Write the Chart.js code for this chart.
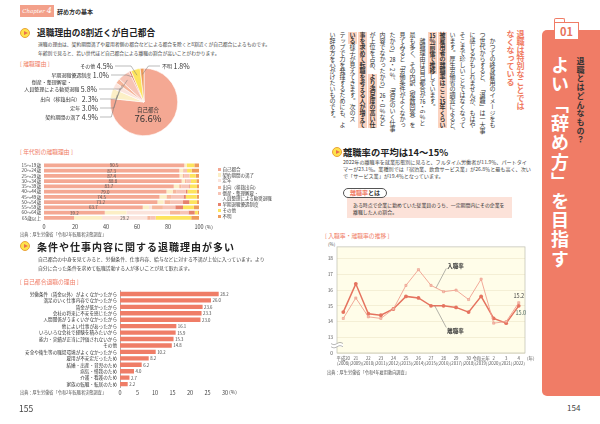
<!DOCTYPE html>
<html lang="ja"><head><meta charset="utf-8">
<script src="https://cdn.jsdelivr.net/npm/chart.js@4.4.0/dist/chart.umd.min.js"></script>
<style>
html,body{margin:0;padding:0;background:#fff;}
#page{position:relative;width:600px;height:424px;overflow:hidden;font-family:"Noto Sans CJK JP","Noto Sans",sans-serif;color:#333;background:#fff;}
.a{position:absolute;white-space:nowrap;}
canvas{position:absolute;}
.icon{position:absolute;width:10px;height:10px;border-radius:50%;background:#FFE24A;border:1px solid #E9A23B;box-sizing:border-box;}
.icon:after{content:"";position:absolute;left:3px;top:1.8px;border-left:4.2px solid #E8704E;border-top:2.6px solid transparent;border-bottom:2.6px solid transparent;}
.lbl{color:#F07C66;}
.v{writing-mode:vertical-rl;white-space:nowrap;position:absolute;}
.tcy{text-combine-upright:all;}
.hl{background:#FBD3C1;font-weight:bold;}
</style></head>
<body><div id="page">

<!-- left page header -->
<div class="a" style="left:20px;top:5px;width:34px;height:12px;background:#F3A08A;color:#fff;font-family:'DejaVu Serif',serif;font-size:5.5px;line-height:12px;text-align:center;font-style:italic;">Chapter <span style="font-size:8px;">4</span></div>
<div class="a" style="left:57px;top:8px;font-size:6px;font-weight:bold;line-height:8px;color:#333;">辞め方の基本</div>

<div class="icon" style="left:20px;top:28px;"></div>
<div class="a" style="left:37px;top:28px;font-size:8.7px;line-height:10px;font-weight:bold;color:#222;">退職理由の8割近くが自己都合</div>
<div class="a" style="left:38px;top:39px;font-size:4.8px;line-height:9px;color:#444;">退職の理由は、契約期間満了や雇用者側の都合などによる都合を除くと8割近くが自己都合によるものです。<br>年齢別で見ると、若い世代ほど自己都合による離職の割合が高いことがわかります。</div>
<div class="a lbl" style="left:20px;top:59.5px;font-size:5.8px;line-height:7px;">[ 離職理由 ]</div>

<canvas id="pie" width="180" height="82" style="left:20px;top:58px;width:180px;height:82px;"></canvas>

<div class="a lbl" style="left:20px;top:147.5px;font-size:5.8px;line-height:7px;">[ 年代別の離職理由 ]</div>
<canvas id="stack" width="215" height="75" style="left:0px;top:157px;width:215px;height:75px;"></canvas>
<div class="a" style="left:205px;top:223.5px;font-size:5px;line-height:6px;color:#444;">(%)</div>
<div id="legend"></div>
<div class="a" style="left:20px;top:231.5px;font-size:4.2px;line-height:5px;color:#555;">出典：厚生労働省「令和2年転職者実態調査」</div>

<div class="icon" style="left:20px;top:241px;"></div>
<div class="a" style="left:37px;top:240.5px;font-size:10px;letter-spacing:1px;line-height:12px;font-weight:bold;color:#222;">条件や仕事内容に関する退職理由が多い</div>
<div class="a" style="left:38px;top:253.5px;font-size:4.85px;line-height:9px;color:#444;">自己都合の中身を見てみると、労働条件、仕事内容、給与などに対する不満が上位に入っています。より<br>自分に合った条件を求めて転職活動する人が多いことが見て取れます。</div>
<div class="a lbl" style="left:20px;top:277.5px;font-size:5.8px;line-height:7px;">[ 自己都合退職の理由 ]</div>
<canvas id="hbar" width="220" height="115" style="left:20px;top:285px;width:220px;height:115px;"></canvas>
<div class="a" style="left:229px;top:389px;font-size:5px;line-height:6px;color:#444;">(%)</div>
<div class="a" style="left:20px;top:389.5px;font-size:4.2px;line-height:5px;color:#555;">出典：厚生労働省「令和2年転職者実態調査」</div>
<div class="a" style="left:19px;top:403px;font-size:8.5px;line-height:10px;color:#444;">155</div>

<!-- right page vertical text -->
<div class="v" style="left:505px;top:30px;width:20px;height:90px;font-size:8px;line-height:10px;font-weight:bold;color:#F07A5F;">退職は特別なことでは<br>なくなっている</div>
<div class="v" style="left:327px;top:32px;width:170px;height:104px;font-size:6px;line-height:10px;color:#333;">　かつての終身雇用のイメージをも<br>つ世代からすると、「退職」は一大事<br>に感じるかもしれませんが、もはや<br>そこまで珍しいことではなくなって<br>います。厚生労働省の調査によると、<br><span class="hl">被雇用者の離職率はここ<span class="tcy">15</span>年くらい</span><br><span class="hl"><span class="tcy">15</span>％前後で推移</span>しています。<br>　離職理由は自己都合が<span class="tcy">76</span>・6％と<br>最も多く、その内訳（複数回答）を<br>見てみると「労働条件がよくなかっ<br>たから」<span class="tcy">28</span>・2％、「満足のいく仕事<br>内容でなかったから」<span class="tcy">26</span>・0％など<br>が上位を占め、<span class="hl">より満足度の高い仕</span><br><span class="hl">事を求めて転職を考える人が増えて</span><br><span class="hl">いる</span>様子が見えてきます。次のス<br>テップで力を発揮するためにも、よ<br>い辞め方を心がけたいものです。</div>

<div class="icon" style="left:332px;top:147px;"></div>
<div class="a" style="left:343px;top:146.5px;font-size:9.3px;line-height:11px;font-weight:bold;color:#222;">離職率の平均は14〜15%</div>
<div class="a" style="left:343px;top:157.5px;font-size:5.1px;line-height:7px;color:#444;">2022年の離職率を就業形態別に見ると、フルタイム労働者が11.9％、パートタイ<br>マーが23.1％。業種別では「宿泊業、飲食サービス業」が26.8％と最も高く、次い<br>で「サービス業」が19.4％となっています。</div>

<div class="a" style="left:347px;top:197px;width:165px;height:21px;background:#FCE2D9;"></div>
<div class="a" style="left:343px;top:188px;width:44px;height:10px;border:0.8px solid #555;border-radius:6px;background:#fff;box-sizing:border-box;font-size:6px;line-height:8.5px;text-align:center;font-weight:bold;"><span style="color:#F07C66;">離職率</span>とは</div>
<div class="a" style="left:353px;top:201px;font-size:4.9px;line-height:7px;color:#333;">ある時点で企業に勤めていた従業員のうち、一定期間内にその企業を<br>離職した人の割合。</div>

<div class="a lbl" style="left:325px;top:231.5px;font-size:5.8px;line-height:7px;">[ 入職率・離職率の推移 ]</div>
<div class="a" style="left:328px;top:242px;font-size:4.5px;line-height:5px;color:#555;">(%)</div>
<canvas id="line" width="230" height="130" style="left:310px;top:240px;width:230px;height:130px;"></canvas>
<div class="a" style="left:527px;top:355.5px;font-size:4.5px;line-height:5px;color:#555;">(年)</div>
<div class="a" style="left:327px;top:369.5px;font-size:4.2px;line-height:5px;color:#555;">出典：厚生労働省「令和4年雇用動向調査」</div>

<!-- sidebar -->
<div class="a" style="left:542px;top:30px;width:58px;height:366px;background:#F07C66;border-radius:5px 0 0 5px;"></div>
<div class="a" style="left:554px;top:18px;width:11px;height:5px;background:#fff;border:1px solid #F07C66;border-bottom:none;border-radius:2px 2px 0 0;box-sizing:border-box;"></div>
<div class="a" style="left:554px;top:22px;width:25px;height:18px;background:#fff;border:1px solid #F07C66;box-sizing:border-box;color:#E8735A;font-weight:bold;font-size:11px;line-height:16px;text-align:center;">01</div>
<div class="v" style="left:575px;top:57px;width:10px;height:95px;font-size:8px;letter-spacing:0.7px;line-height:10px;font-weight:bold;color:#333;">退職とはどんなもの？</div>
<div class="v" style="left:549px;top:56px;width:22px;height:220px;font-size:18px;letter-spacing:1.4px;line-height:22px;font-weight:bold;color:#fff;">よい「辞め方」を目指す</div>
<div class="a" style="left:567px;top:403px;font-size:8px;line-height:10px;color:#444;">154</div>

</div>
<script>
// ---------- data ----------
const reasonNames = ['自己都合','契約期間の満了','定年','出向（移籍出向）','倒産・整理解雇・人員整理による勧奨退職','早期退職優遇制度','その他','不明'];
const reasonLines = [['自己都合'],['契約期間の満了'],['定年'],['出向（移籍出向）'],['倒産・整理解雇・','人員整理による勧奨退職'],['早期退職優遇制度'],['その他'],['不明']];
const pieValues = [76.6, 4.9, 3.0, 2.3, 5.8, 1.0, 4.5, 1.8];

const ageLabels = ['15〜19歳','20〜24歳','25〜29歳','30〜34歳','35〜39歳','40〜44歳','45〜49歳','50〜54歳','55〜59歳','60〜64歳','65歳以上'];
const ageJiko    = [90.5,87.3,87.4,88.8,83.7,79.0,74.5,73.2,63.7,39.2,19.4];
const ageKeiyaku = [1.5, 2.5, 2.0, 2.0, 3.5, 4.0, 4.5, 4.0, 4.0,14.0,18.0];
const ageTeinen  = [0.0, 0.0, 0.0, 0.0, 0.0, 0.0, 0.0, 0.5, 2.0,28.0,29.2];
const ageShukko  = [0.0, 0.5, 1.0, 1.0, 1.5, 2.5, 3.0, 4.0, 7.0, 7.0, 2.0];
const ageTosan   = [0.0, 2.0, 3.5, 3.0, 5.0, 6.0, 8.0, 8.0, 8.0, 5.0, 3.4];
const ageSouki   = [0.0, 0.0, 0.0, 0.0, 0.5, 1.0, 1.5, 4.0, 5.0, 4.0, 0.0];
const ageSonota  = [5.0, 3.0, 4.0, 3.5, 4.5, 6.0, 7.0, 5.0, 7.0, 2.0,23.0];
const ageFumei   = [3.0, 4.7, 2.1, 1.7, 1.3, 1.5, 1.5, 1.3, 3.3, 0.8, 5.0];
const ageTicks   = [0,20,40,60,80,100];

const jikoReasons = ['労働条件（賃金以外）がよくなかったから','満足のいく仕事内容でなかったから','賃金が低かったから','会社の将来に不安を感じたから','人間関係がうまくいかなかったから','他によい仕事があったから','いろいろな会社で経験を積みたいから','能力・実績が正当に評価されないから','その他','安全や衛生等の職場環境がよくなかったから','雇用が不安定だったため','結婚・出産・育児のため','病気・怪我のため','介護・看護のため','家族の転職・転居のため'];
const jikoValues = [28.2,26.0,23.6,23.3,23.0,16.1,15.9,15.3,14.8,10.2,8.2,6.2,4.0,2.7,2.2];
const jikoTicks = [0,5,10,15,20,25,30];

const yearLabels = [['平成20','(2008)'],['21','(2009)'],['22','(2010)'],['23','(2011)'],['24','(2012)'],['25','(2013)'],['26','(2014)'],['27','(2015)'],['28','(2016)'],['29','(2017)'],['30','(2018)'],['令和元年','(2019)'],['2','(2020)'],['3','(2021)'],['4','(2022)']];
const nyushokuRate = [14.2,15.5,14.3,14.2,14.8,16.3,17.3,16.3,15.9,16.0,15.4,16.7,13.9,14.0,15.2];
const rishokuRate  = [14.6,16.4,14.5,14.4,14.8,15.6,15.5,15.0,15.0,14.9,14.6,15.6,14.2,13.9,15.0];
const rateTicks = [12,13,14,15,16,17,18];
const rateTickLabels = ['0','13','14','15','16','17','18'];

// ---------- styles ----------
const FONT = '"Noto Sans CJK JP","Noto Sans",sans-serif';
Chart.defaults.font.family = FONT;
const reasonColors = ['#F4A893','#FCEFC6','#FBE4DC','#F6B79C','#F7C4B6','#E6826D','#FDE45E','#EE9C5C'];

// ---------- pie ----------
const pieLayout = [
  {center:true, dx:4, dy:8},
  {x:78, y:59, align:'right'},
  {x:78, y:50, align:'right'},
  {x:78, y:41, align:'right'},
  {x:77, y:31, align:'right'},
  {x:89, y:17, align:'right'},
  {x:93, y:8,  align:'right'},
  {x:142,y:8,  align:'left'}
];
const pieLabelPlugin = {
  id:'pieLabels',
  afterDraw(chart){
    const ctx = chart.ctx; const meta = chart.getDatasetMeta(0);
    ctx.save();
    meta.data.forEach((arc,i)=>{
      const L = pieLayout[i]; const val = pieValues[i].toFixed(1)+'%';
      ctx.fillStyle = '#333'; ctx.textBaseline='middle';
      if(L.center){
        ctx.textAlign='center';
        ctx.font = '5.5px '+FONT; ctx.fillText(reasonLines[i][0], arc.x+L.dx, arc.y+L.dy);
        ctx.font = '9.5px '+FONT; ctx.fillText(val, arc.x+L.dx, arc.y+L.dy+8.5);
        return;
      }
      const lines = reasonLines[i]; const name = lines[lines.length-1];
      ctx.font = '7px '+FONT; const vw = ctx.measureText(val).width;
      ctx.font = '5px '+FONT; const nw = ctx.measureText(name).width;
      let nameX, valX, startX;
      if(L.align==='right'){ valX = L.x - vw; nameX = valX - 1.5 - nw; startX = L.x + 2; }
      else { nameX = L.x; valX = L.x + nw + 1.5; startX = L.x - 2; }
      ctx.textAlign='left';
      ctx.font = '5px '+FONT; ctx.fillText(name, nameX, L.y+0.5);
      if(lines.length>1){ ctx.textAlign='center'; ctx.fillText(lines[0], nameX + nw/2, L.y-6.5); ctx.textAlign='left'; }
      ctx.font = '7px '+FONT; ctx.fillText(val, valX, L.y);
      // leader line
      const mid = (arc.startAngle+arc.endAngle)/2;
      const tx = arc.x + Math.cos(mid)*arc.outerRadius*0.82;
      const ty = arc.y + Math.sin(mid)*arc.outerRadius*0.82;
      ctx.strokeStyle='#777'; ctx.lineWidth=0.5; ctx.beginPath(); ctx.moveTo(startX, L.y);
      const ex = L.align==='right' ? Math.max(startX, tx-6) : Math.min(startX, tx+6);
      ctx.lineTo(ex, L.y); ctx.lineTo(tx, ty); ctx.stroke();
    });
    ctx.restore();
  }
};
new Chart(document.getElementById('pie'),{
  type:'pie',
  data:{labels:reasonNames, datasets:[{data:pieValues, backgroundColor:reasonColors, borderColor:'#fff', borderWidth:0.6}]},
  options:{responsive:false, animation:false, layout:{padding:{left:90,right:22,top:10,bottom:4}},
    plugins:{legend:{display:false}, tooltip:{enabled:false}}},
  plugins:[pieLabelPlugin]
});

// ---------- stacked age bars ----------
const ageSeries = [ageJiko,ageKeiyaku,ageTeinen,ageShukko,ageTosan,ageSouki,ageSonota,ageFumei];
const stackLabelPlugin = {
  id:'stackLabels',
  afterDatasetsDraw(chart){
    const ctx = chart.ctx; ctx.save();
    ctx.font='4.5px '+FONT; ctx.fillStyle='#555'; ctx.textAlign='center'; ctx.textBaseline='middle';
    ageLabels.forEach((_,j)=>{
      let best=0; ageSeries.forEach((s,i)=>{ if(s[j]>ageSeries[best][j]) best=i; });
      const bar = chart.getDatasetMeta(best).data[j];
      ctx.fillText(ageSeries[best][j].toFixed(1), (bar.x+bar.base)/2, bar.y+0.3);
    });
    ctx.restore();
  }
};
new Chart(document.getElementById('stack'),{
  type:'bar',
  data:{labels:ageLabels, datasets:ageSeries.map((s,i)=>({label:reasonNames[i], data:s, backgroundColor:reasonColors[i], borderWidth:0, barPercentage:1, categoryPercentage:0.72}))},
  options:{indexAxis:'y', responsive:false, animation:false, layout:{padding:{top:2,right:16,left:0,bottom:0}},
    scales:{
      x:{stacked:true, min:0, max:100, afterBuildTicks(s){s.ticks=ageTicks.map(v=>({value:v}));},
         ticks:{font:{size:5.5}, color:'#444', padding:3}, grid:{display:false, drawTicks:false}, border:{display:false},
         afterFit(s){s.height=11.5;}},
      y:{stacked:true, ticks:{font:{size:4.6}, color:'#444', padding:3, autoSkip:false}, grid:{display:false, drawTicks:false}, border:{display:false},
         afterFit(s){s.width=44;}}
    },
    plugins:{legend:{display:false}, tooltip:{enabled:false}}},
  plugins:[stackLabelPlugin]
});
// html legend
const legendY = [169.3,175,180.7,187.7,193.3,204.3,210.7,216.7];
const legendBox = document.getElementById('legend');
reasonLines.forEach((lines,i)=>{
  const y = legendY[i];
  const sq = document.createElement('div'); sq.className='a';
  sq.style.cssText=`left:218px;top:${y-1.6}px;width:3.2px;height:3.2px;background:${reasonColors[i]};`;
  legendBox.appendChild(sq);
  const t = document.createElement('div'); t.className='a';
  t.style.cssText=`left:222.5px;top:${y-2.5}px;font-size:4.5px;line-height:5.2px;color:#444;`;
  t.innerHTML = lines.join('<br>');
  legendBox.appendChild(t);
});

// ---------- horizontal bars ----------
const hbarValuePlugin = {
  id:'hbarValues',
  afterDatasetsDraw(chart){
    const ctx=chart.ctx; ctx.save(); ctx.font='4.3px '+FONT; ctx.fillStyle='#444'; ctx.textAlign='left'; ctx.textBaseline='middle';
    chart.getDatasetMeta(0).data.forEach((bar,i)=>{ ctx.fillText(jikoValues[i].toFixed(1), bar.x+1.5, bar.y+0.3); });
    ctx.restore();
  }
};
new Chart(document.getElementById('hbar'),{
  type:'bar',
  data:{labels:jikoReasons, datasets:[{data:jikoValues, backgroundColor:'#EF7D67', borderWidth:0, barPercentage:1, categoryPercentage:0.68}]},
  options:{indexAxis:'y', responsive:false, animation:false, layout:{padding:{top:4,right:15,left:0,bottom:0}},
    scales:{
      x:{min:0, max:30, afterBuildTicks(s){s.ticks=jikoTicks.map(v=>({value:v}));},
         ticks:{font:{size:5.5}, color:'#444', padding:2}, grid:{display:false, drawTicks:false}, border:{display:false},
         afterFit(s){s.height=12.7;}},
      y:{ticks:{font:{size:4.6}, color:'#333', padding:3, autoSkip:false}, grid:{display:false, drawTicks:false}, border:{display:true, color:'#777', width:0.6},
         afterFit(s){s.width=100;}}
    },
    plugins:{legend:{display:false}, tooltip:{enabled:false}}},
  plugins:[hbarValuePlugin]
});

// ---------- line chart ----------
const lineDecor = {
  id:'lineDecor',
  beforeDraw(chart){
    const {ctx, chartArea:a} = chart; ctx.save(); ctx.fillStyle='#FFFDE9'; ctx.fillRect(a.left,a.top,a.right-a.left,a.bottom-a.top); ctx.restore();
  },
  afterDraw(chart){
    const {ctx, chartArea:a, scales:{x,y}} = chart; ctx.save();
    ctx.strokeStyle='#BDBDB0'; ctx.lineWidth=0.7; ctx.strokeRect(a.left,a.top,a.right-a.left,a.bottom-a.top);
    // axis break
    const by = y.getPixelForValue(12.5);
    ctx.fillStyle='#fff'; ctx.fillRect(a.left-6, by-1.6, 12, 3.2);
    ctx.strokeStyle='#888'; ctx.lineWidth=0.6;
    [-1.6,1.6].forEach(off=>{ ctx.beginPath(); for(let k=0;k<=12;k++){ const px=a.left-6+k; const py=by+off+Math.sin(k/12*Math.PI*2)*1.1; k?ctx.lineTo(px,py):ctx.moveTo(px,py);} ctx.stroke(); });
    // series labels with leader lines
    ctx.fillStyle='#333'; ctx.font='bold 5.5px '+FONT; ctx.textBaseline='middle'; ctx.textAlign='left';
    const lx = x.getPixelForValue(8.3);
    const ny = y.getPixelForValue(17.57), ry = y.getPixelForValue(13.43);
    ctx.fillText('入職率', lx, ny); ctx.fillText('離職率', lx, ry);
    const interp=(arr,t)=>arr[Math.floor(t)]+(arr[Math.ceil(t)]-arr[Math.floor(t)])*(t-Math.floor(t));
    ctx.strokeStyle='#666'; ctx.lineWidth=0.5;
    ctx.beginPath(); ctx.moveTo(lx-1, ny+3); ctx.lineTo(x.getPixelForValue(7.4), y.getPixelForValue(interp(nyushokuRate,7.4))); ctx.stroke();
    ctx.beginPath(); ctx.moveTo(lx-1, ry-3); ctx.lineTo(x.getPixelForValue(7.3), y.getPixelForValue(interp(rishokuRate,7.3))); ctx.stroke();
    // last values
    const last = nyushokuRate.length-1;
    ctx.font='5.5px '+FONT; ctx.textAlign='center'; ctx.fillStyle='#444';
    ctx.fillText(nyushokuRate[last].toFixed(1), x.getPixelForValue(last), y.getPixelForValue(nyushokuRate[last])-6.5);
    ctx.fillStyle='#4F6A62';
    ctx.fillText(rishokuRate[last].toFixed(1), x.getPixelForValue(last)+2, y.getPixelForValue(rishokuRate[last])+7);
    ctx.restore();
  }
};
new Chart(document.getElementById('line'),{
  type:'line',
  data:{labels:yearLabels, datasets:[
    {label:'入職率', data:nyushokuRate, borderColor:'#F0A090', borderWidth:0.9, tension:0, pointStyle:'rect', pointRadius:1.5, pointBackgroundColor:'#F6C0B2', pointBorderColor:'#E9907F', pointBorderWidth:0.5},
    {label:'離職率', data:rishokuRate, borderColor:'#E5735F', borderWidth:1.5, tension:0, pointStyle:'circle', pointRadius:1.9, pointBackgroundColor:'#E5735F', pointBorderWidth:0}
  ]},
  options:{responsive:false, animation:false, layout:{padding:{top:4,right:15,left:0,bottom:0}},
    scales:{
      x:{offset:true, grid:{display:false, drawTicks:false}, border:{display:false},
         ticks:{font:{size:4.3, lineHeight:1.15}, color:'#555', padding:3, maxRotation:0, autoSkip:false},
         afterFit(s){s.height=17;}},
      y:{min:12, max:18.75, afterBuildTicks(s){s.ticks=rateTicks.map(v=>({value:v}));},
         ticks:{font:{size:4.8}, color:'#555', padding:4, callback:(v)=>rateTickLabels[rateTicks.indexOf(v)]},
         grid:{color:'#ECE5C8', lineWidth:0.6, drawTicks:false}, border:{display:false},
         afterFit(s){s.width=27;}}
    },
    plugins:{legend:{display:false}, tooltip:{enabled:false}}},
  plugins:[lineDecor]
});
</script>
</body></html>
